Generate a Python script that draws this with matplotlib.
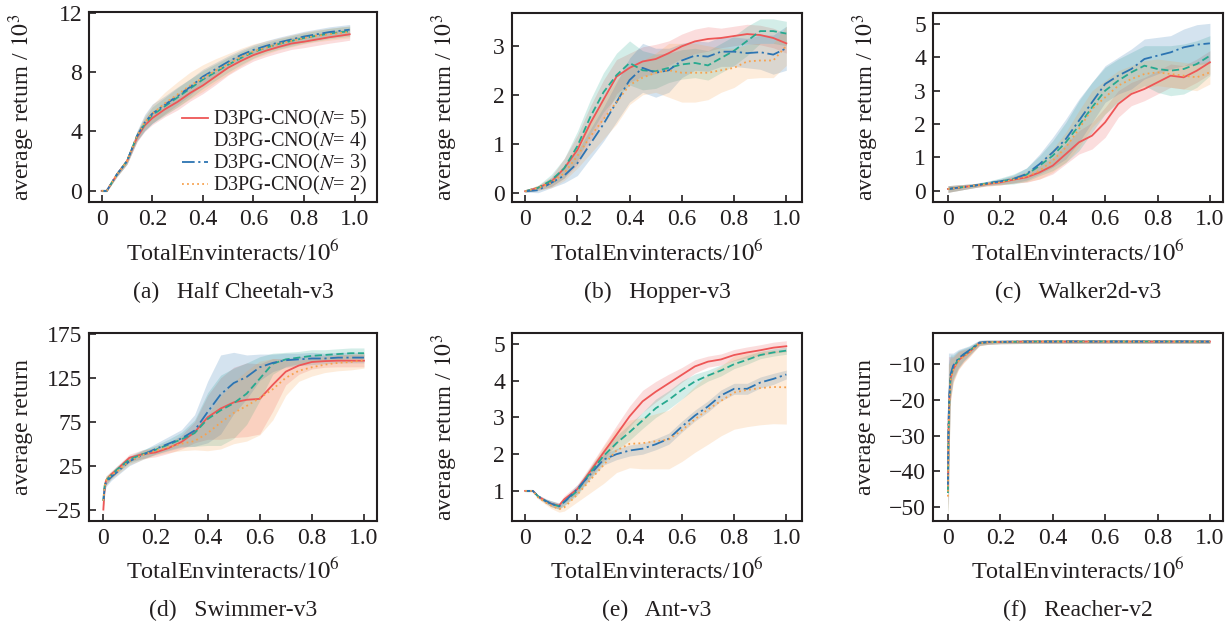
"""
D3PG-CNO 不同 N 的训练曲线对比（六个 MuJoCo 任务），输出 out.png。
"""
import numpy as np
import matplotlib
matplotlib.use("Agg")
import matplotlib.pyplot as plt

plt.rcParams["font.family"] = ["Liberation Serif", "DejaVu Serif"]
plt.rcParams["mathtext.fontset"] = "stix"

TEXT_COLOR = "#231f20"
SERIES_LABELS = ["D3PG-CNO($N$= 5)", "D3PG-CNO($N$= 4)", "D3PG-CNO($N$= 3)", "D3PG-CNO($N$= 2)"]
COLORS = ["#ee5656", "#27a98f", "#2c74b2", "#f7a24f"]
STYLES = ["-", (0, (4, 2)), (0, (7, 2, 1.2, 2)), (0, (1, 1.8))]

X_TICKS = [0, 0.2, 0.4, 0.6, 0.8, 1.0]
X_TICK_LABELS = ["0", "0.2", "0.4", "0.6", "0.8", "1.0"]

# (a) Half Cheetah-v3, 10^3
HC_X = [0, 0.02, 0.06, 0.1, 0.14, 0.17, 0.2, 0.25, 0.3, 0.35, 0.4, 0.45, 0.5, 0.55, 0.6, 0.65, 0.7, 0.75, 0.8, 0.85, 0.9, 0.95, 0.98]
HC_N5 = [0, 0, 1.1, 2.0, 3.6, 4.4, 4.9, 5.5, 6.0, 6.6, 7.1, 7.7, 8.3, 8.75, 9.15, 9.45, 9.7, 9.93, 10.05, 10.2, 10.35, 10.47, 10.55]
HC_N4 = [0, 0, 1.1, 2.0, 3.7, 4.5, 5.1, 5.7, 6.3, 6.9, 7.5, 8.0, 8.5, 8.95, 9.35, 9.65, 9.9, 10.1, 10.3, 10.45, 10.6, 10.7, 10.75]
HC_N3 = [0, 0, 1.1, 2.0, 3.7, 4.6, 5.2, 5.8, 6.4, 7.0, 7.7, 8.2, 8.7, 9.15, 9.5, 9.77, 10.0, 10.2, 10.4, 10.55, 10.7, 10.8, 10.86]
HC_N2 = [0, 0, 1.1, 2.0, 3.7, 4.6, 5.2, 5.9, 6.5, 7.1, 7.6, 8.1, 8.55, 9.0, 9.4, 9.65, 9.9, 10.1, 10.3, 10.45, 10.55, 10.65, 10.7]
HC_N5_SD = [0.05, 0.05, 0.15, 0.2, 0.3, 0.4, 0.45, 0.5, 0.55, 0.55, 0.55, 0.55, 0.5, 0.45, 0.4, 0.4, 0.4, 0.4, 0.4, 0.4, 0.4, 0.4, 0.4]
HC_N4_SD = [0.05, 0.05, 0.15, 0.2, 0.3, 0.45, 0.55, 0.6, 0.65, 0.65, 0.6, 0.55, 0.5, 0.45, 0.4, 0.35, 0.35, 0.35, 0.35, 0.35, 0.35, 0.35, 0.35]
HC_N3_SD = [0.05, 0.05, 0.15, 0.2, 0.35, 0.55, 0.65, 0.6, 0.6, 0.55, 0.5, 0.45, 0.4, 0.35, 0.35, 0.35, 0.35, 0.35, 0.35, 0.35, 0.35, 0.35, 0.35]
HC_N2_SD = [0.05, 0.05, 0.15, 0.2, 0.3, 0.45, 0.6, 0.75, 0.85, 0.9, 0.9, 0.8, 0.7, 0.6, 0.5, 0.45, 0.4, 0.4, 0.4, 0.4, 0.4, 0.4, 0.4]

# (b) Hopper-v3, 10^3
HP_X = [0, 0.05, 0.1, 0.15, 0.2, 0.25, 0.3, 0.35, 0.4, 0.45, 0.5, 0.55, 0.6, 0.65, 0.7, 0.75, 0.8, 0.85, 0.9, 0.95, 1.0]
HP_N5 = [0.03, 0.1, 0.22, 0.5, 0.87, 1.42, 1.9, 2.37, 2.55, 2.68, 2.73, 2.85, 2.99, 3.09, 3.14, 3.16, 3.2, 3.24, 3.22, 3.16, 3.05]
HP_N4 = [0.03, 0.1, 0.25, 0.5, 0.95, 1.55, 2.05, 2.4, 2.65, 2.5, 2.48, 2.55, 2.62, 2.65, 2.6, 2.75, 2.9, 3.1, 3.3, 3.3, 3.25]
HP_N3 = [0.03, 0.05, 0.2, 0.35, 0.6, 1.0, 1.4, 1.85, 2.3, 2.55, 2.45, 2.5, 2.7, 2.8, 2.78, 2.88, 2.88, 2.85, 2.87, 2.82, 2.95]
HP_N2 = [0.03, 0.1, 0.2, 0.4, 0.75, 1.15, 1.5, 1.85, 2.2, 2.35, 2.45, 2.5, 2.45, 2.45, 2.45, 2.5, 2.55, 2.68, 2.7, 2.7, 3.0]
HP_N5_SD = [0.02, 0.05, 0.1, 0.2, 0.3, 0.35, 0.4, 0.35, 0.3, 0.3, 0.3, 0.25, 0.25, 0.25, 0.25, 0.2, 0.2, 0.2, 0.2, 0.2, 0.2]
HP_N4_SD = [0.02, 0.05, 0.12, 0.2, 0.3, 0.35, 0.4, 0.45, 0.45, 0.4, 0.35, 0.3, 0.3, 0.3, 0.3, 0.3, 0.3, 0.3, 0.25, 0.25, 0.25]
HP_N3_SD = [0.02, 0.05, 0.1, 0.15, 0.25, 0.3, 0.35, 0.4, 0.45, 0.5, 0.5, 0.45, 0.35, 0.3, 0.3, 0.3, 0.3, 0.3, 0.35, 0.4, 0.45]
HP_N2_SD = [0.02, 0.05, 0.1, 0.15, 0.25, 0.35, 0.4, 0.45, 0.4, 0.35, 0.4, 0.55, 0.6, 0.6, 0.55, 0.45, 0.4, 0.35, 0.35, 0.35, 0.4]

# (c) Walker2d-v3, 10^3
WK_X = [0, 0.05, 0.1, 0.15, 0.2, 0.25, 0.3, 0.35, 0.4, 0.45, 0.5, 0.55, 0.6, 0.65, 0.7, 0.75, 0.8, 0.85, 0.9, 0.95, 1.0]
WK_N5 = [0.05, 0.1, 0.15, 0.2, 0.25, 0.33, 0.4, 0.55, 0.75, 1.1, 1.45, 1.65, 2.05, 2.6, 2.9, 3.05, 3.25, 3.45, 3.4, 3.6, 3.85]
WK_N4 = [0.05, 0.1, 0.15, 0.22, 0.28, 0.35, 0.48, 0.75, 1.05, 1.45, 1.95, 2.5, 3.0, 3.3, 3.55, 3.75, 3.65, 3.6, 3.65, 3.8, 4.05]
WK_N3 = [0.05, 0.1, 0.15, 0.22, 0.28, 0.35, 0.5, 0.8, 1.15, 1.55, 2.1, 2.65, 3.2, 3.45, 3.65, 3.95, 4.05, 4.15, 4.3, 4.38, 4.42]
WK_N2 = [0.05, 0.1, 0.15, 0.2, 0.25, 0.33, 0.42, 0.6, 0.9, 1.3, 1.85, 2.45, 2.8, 3.15, 3.35, 3.5, 3.55, 3.5, 3.45, 3.4, 3.55]
WK_N5_SD = [0.1, 0.08, 0.06, 0.06, 0.08, 0.1, 0.15, 0.2, 0.25, 0.3, 0.35, 0.4, 0.45, 0.4, 0.35, 0.35, 0.35, 0.35, 0.35, 0.35, 0.35]
WK_N4_SD = [0.1, 0.08, 0.06, 0.06, 0.1, 0.15, 0.2, 0.3, 0.45, 0.6, 0.75, 0.75, 0.7, 0.65, 0.6, 0.6, 0.7, 0.75, 0.75, 0.7, 0.6]
WK_N3_SD = [0.1, 0.08, 0.06, 0.06, 0.08, 0.12, 0.18, 0.3, 0.45, 0.6, 0.65, 0.6, 0.55, 0.55, 0.6, 0.6, 0.55, 0.5, 0.55, 0.6, 0.6]
WK_N2_SD = [0.1, 0.08, 0.06, 0.06, 0.08, 0.1, 0.15, 0.25, 0.35, 0.45, 0.55, 0.55, 0.5, 0.45, 0.4, 0.4, 0.4, 0.4, 0.4, 0.4, 0.35]

# (d) Swimmer-v3
SW_X = [0, 0.005, 0.01, 0.03, 0.05, 0.1, 0.15, 0.2, 0.25, 0.3, 0.35, 0.4, 0.45, 0.5, 0.55, 0.6, 0.65, 0.7, 0.75, 0.8, 0.85, 0.9, 0.95, 1.0]
SW_N5 = [-25, 0, 8, 15, 20, 34, 38, 40, 45, 52, 63, 80, 90, 97, 100, 101, 117, 132, 139, 143, 144, 144.5, 144.5, 144.5]
SW_N4 = [-15, 2, 8, 14, 20, 32, 38, 43, 49, 55, 62, 78, 88, 96, 107, 124, 141, 146, 148, 150, 151, 152, 153, 153]
SW_N3 = [-15, 0, 6, 12, 17, 30, 37, 44, 50, 56, 65, 86, 106, 119, 126, 137, 142, 145, 146, 147, 147, 148, 148, 148]
SW_N2 = [-15, 2, 8, 14, 18, 30, 37, 42, 46, 50, 53, 62, 74, 85, 93, 102, 112, 125, 133, 137, 140, 142, 143, 145]
SW_N5_SD = [8, 6, 5, 4, 4, 4, 5, 5, 6, 8, 12, 25, 35, 40, 42, 40, 30, 15, 10, 8, 7, 7, 7, 7]
SW_N4_SD = [8, 6, 5, 4, 4, 4, 5, 5, 6, 8, 15, 30, 40, 40, 35, 25, 12, 8, 7, 7, 6, 6, 6, 6]
SW_N3_SD = [8, 6, 5, 4, 4, 5, 5, 6, 8, 10, 18, 35, 45, 35, 25, 15, 10, 8, 7, 7, 6, 6, 6, 6]
SW_N2_SD = [8, 6, 5, 4, 4, 4, 5, 5, 6, 8, 10, 20, 30, 35, 40, 42, 35, 20, 12, 10, 9, 9, 9, 9]

# (e) Ant-v3, 10^3
AN_X = [0, 0.03, 0.05, 0.08, 0.1, 0.13, 0.15, 0.2, 0.25, 0.3, 0.35, 0.4, 0.45, 0.5, 0.55, 0.6, 0.65, 0.7, 0.75, 0.8, 0.85, 0.9, 0.95, 1.0]
AN_N5 = [1.0, 1.0, 0.85, 0.72, 0.65, 0.6, 0.77, 1.05, 1.54, 2.04, 2.53, 3.03, 3.44, 3.7, 3.93, 4.16, 4.39, 4.52, 4.58, 4.7, 4.77, 4.83, 4.9, 4.94]
AN_N4 = [1.0, 1.0, 0.85, 0.72, 0.65, 0.58, 0.7, 1.0, 1.5, 1.95, 2.3, 2.6, 2.92, 3.25, 3.48, 3.75, 3.98, 4.14, 4.28, 4.45, 4.57, 4.7, 4.77, 4.82]
AN_N3 = [1.0, 1.0, 0.85, 0.72, 0.65, 0.58, 0.7, 1.05, 1.45, 1.85, 2.0, 2.1, 2.15, 2.27, 2.42, 2.75, 3.05, 3.3, 3.6, 3.78, 3.78, 3.95, 4.05, 4.17]
AN_N2 = [1.0, 1.0, 0.82, 0.68, 0.6, 0.5, 0.55, 0.9, 1.3, 1.7, 2.1, 2.28, 2.3, 2.35, 2.4, 2.65, 2.95, 3.22, 3.45, 3.68, 3.75, 3.8, 3.83, 3.82]
AN_N5_SD = [0.02, 0.02, 0.04, 0.06, 0.08, 0.08, 0.1, 0.12, 0.15, 0.2, 0.25, 0.28, 0.3, 0.28, 0.25, 0.2, 0.18, 0.15, 0.15, 0.15, 0.15, 0.15, 0.15, 0.15]
AN_N4_SD = [0.02, 0.02, 0.04, 0.06, 0.08, 0.08, 0.1, 0.12, 0.15, 0.18, 0.2, 0.22, 0.22, 0.25, 0.25, 0.25, 0.2, 0.15, 0.15, 0.12, 0.12, 0.1, 0.1, 0.1]
AN_N3_SD = [0.02, 0.02, 0.04, 0.06, 0.08, 0.08, 0.1, 0.12, 0.12, 0.15, 0.15, 0.15, 0.15, 0.15, 0.15, 0.15, 0.15, 0.15, 0.15, 0.15, 0.15, 0.15, 0.15, 0.12]
AN_N2_SD = [0.02, 0.02, 0.04, 0.06, 0.08, 0.08, 0.1, 0.2, 0.35, 0.5, 0.6, 0.65, 0.7, 0.75, 0.8, 0.85, 0.9, 0.95, 0.95, 1.0, 1.0, 1.0, 1.0, 1.0]

# (f) Reacher-v2
RC_X = [0, 0.002, 0.005, 0.01, 0.02, 0.04, 0.06, 0.08, 0.1, 0.12, 0.15, 0.2, 0.3, 0.4, 0.5, 0.6, 0.7, 0.8, 0.9, 1.0]
RC_N5 = [-45, -28, -20, -14, -11.5, -9, -7.8, -6.8, -5.5, -4.2, -4.0, -3.9, -3.8, -3.8, -3.8, -3.8, -3.8, -3.8, -3.8, -3.8]
RC_N4 = [-46, -30, -21, -13.5, -11, -8.8, -7.5, -6.5, -5.3, -4.2, -4.0, -3.9, -3.8, -3.75, -3.8, -3.75, -3.8, -3.75, -3.8, -3.8]
RC_N3 = [-44, -27, -19, -13, -10.5, -8.5, -7.3, -6.3, -5.2, -4.1, -3.9, -3.85, -3.8, -3.8, -3.75, -3.8, -3.75, -3.8, -3.75, -3.8]
RC_N2 = [-47, -30, -22, -14.5, -11.8, -9.2, -8.0, -7.0, -5.6, -4.3, -4.0, -3.9, -3.85, -3.8, -3.8, -3.8, -3.8, -3.8, -3.8, -3.8]
RC_N5_SD = [6, 20, 12, 6, 3.5, 2.5, 1.8, 1.3, 1.0, 0.7, 0.6, 0.5, 0.5, 0.5, 0.5, 0.5, 0.5, 0.5, 0.5, 0.5]
RC_N4_SD = [6, 20, 12, 6, 3.5, 2.5, 1.8, 1.3, 1.0, 0.7, 0.6, 0.5, 0.5, 0.5, 0.5, 0.5, 0.5, 0.5, 0.5, 0.5]
RC_N3_SD = [6, 20, 12, 6, 3.5, 2.5, 1.8, 1.3, 1.0, 0.7, 0.6, 0.5, 0.5, 0.5, 0.5, 0.5, 0.5, 0.5, 0.5, 0.5]
RC_N2_SD = [6, 20, 12, 6, 3.5, 2.5, 1.8, 1.3, 1.0, 0.7, 0.6, 0.5, 0.5, 0.5, 0.5, 0.5, 0.5, 0.5, 0.5, 0.5]

W, H = 1232, 630


def PixelRect(left, right, top, bottom):
    return [left / W, 1 - bottom / H, (right - left) / W, (bottom - top) / H]


def DrawPanel(ax, x, means, sds, xlim, ylim, yticks, ylabel, caption, captionY):
    for mean, sd, color in zip(means, sds, COLORS):
        m = np.array(mean)
        s = np.array(sd)
        ax.fill_between(x, m - s, m + s, color=color, alpha=0.2, linewidth=0)
    lines = []
    for mean, color, ls, label in zip(means, COLORS, STYLES, SERIES_LABELS):
        line, = ax.plot(x, mean, color=color, linestyle=ls, linewidth=1.3, label=label)
        lines.append(line)
    ax.set_xlim(*xlim)
    ax.set_ylim(*ylim)
    ax.set_xticks(X_TICKS)
    ax.set_xticklabels(X_TICK_LABELS)
    ax.set_yticks(yticks)
    ax.set_yticklabels([f"{t:g}".replace("-", "\u2212") for t in yticks])
    ax.tick_params(direction="in", length=5, width=1.2, labelsize=17, pad=5, colors=TEXT_COLOR)
    for sp in ax.spines.values():
        sp.set_linewidth(1.5)
        sp.set_color(TEXT_COLOR)
    ax.set_xlabel("TotalEnvinteracts/$10^6$", fontsize=17.5, color=TEXT_COLOR)
    ax.xaxis.set_label_coords(0.5, -0.27)
    ax.xaxis.label.set_va("center")
    ax.set_ylabel(ylabel, fontsize=17, color=TEXT_COLOR)
    ax.yaxis.set_label_coords(-0.232, 0.5)
    ax.yaxis.label.set_va("center")
    pos = ax.get_position()
    ax.figure.text(pos.x0 + pos.width / 2, 1 - captionY / H, caption, ha="center", va="center",
                   fontsize=17, color=TEXT_COLOR)
    return lines


fig = plt.figure(figsize=(W / 100, H / 100), dpi=100)

axA = fig.add_axes(PixelRect(89, 377, 12, 202))
axB = fig.add_axes(PixelRect(512, 802, 13, 202))
axC = fig.add_axes(PixelRect(933, 1223, 13, 202))
axD = fig.add_axes(PixelRect(89, 377, 333, 521))
axE = fig.add_axes(PixelRect(512, 802, 333, 521))
axF = fig.add_axes(PixelRect(933, 1223, 333, 521))

ylabK = "average return / $10^3$"
linesA = DrawPanel(axA, HC_X, [HC_N5, HC_N4, HC_N3, HC_N2], [HC_N5_SD, HC_N4_SD, HC_N3_SD, HC_N2_SD],
                   (-0.05, 1.088), (-0.75, 12.05), [0, 4, 8, 12], ylabK, "(a)   Half Cheetah-v3", 292)
DrawPanel(axB, HP_X, [HP_N5, HP_N4, HP_N3, HP_N2], [HP_N5_SD, HP_N4_SD, HP_N3_SD, HP_N2_SD],
          (-0.05, 1.06), (-0.19, 3.67), [0, 1, 2, 3], ylabK, "(b)   Hopper-v3", 292)
DrawPanel(axC, WK_X, [WK_N5, WK_N4, WK_N3, WK_N2], [WK_N5_SD, WK_N4_SD, WK_N3_SD, WK_N2_SD],
          (-0.057, 1.05), (-0.34, 5.33), [0, 1, 2, 3, 4, 5], ylabK, "(c)   Walker2d-v3", 292)
DrawPanel(axD, SW_X, [SW_N5, SW_N4, SW_N3, SW_N2], [SW_N5_SD, SW_N4_SD, SW_N3_SD, SW_N2_SD],
          (-0.055, 1.05), (-38, 176), [-25, 25, 75, 125, 175], "average return", "(d)   Swimmer-v3", 610)
DrawPanel(axE, AN_X, [AN_N5, AN_N4, AN_N3, AN_N2], [AN_N5_SD, AN_N4_SD, AN_N3_SD, AN_N2_SD],
          (-0.05, 1.06), (0.18, 5.3), [1, 2, 3, 4, 5], ylabK, "(e)   Ant-v3", 610)
DrawPanel(axF, RC_X, [RC_N5, RC_N4, RC_N3, RC_N2], [RC_N5_SD, RC_N4_SD, RC_N3_SD, RC_N2_SD],
          (-0.057, 1.05), (-53.8, -1.4), [-50, -40, -30, -20, -10], "average return", "(f)   Reacher-v2", 610)

leg = axA.legend(handles=linesA, loc="lower right", bbox_to_anchor=(1.02, -0.06), frameon=False,
                 fontsize=14.5, handlelength=1.3, handletextpad=0.25, labelspacing=-0.05, borderpad=0.3)
# 原图中 N=4 的图例线条缺失
leg.legend_handles[1].set_visible(False)
for t in leg.get_texts():
    t.set_color(TEXT_COLOR)

fig.savefig("out.png", dpi=100)
